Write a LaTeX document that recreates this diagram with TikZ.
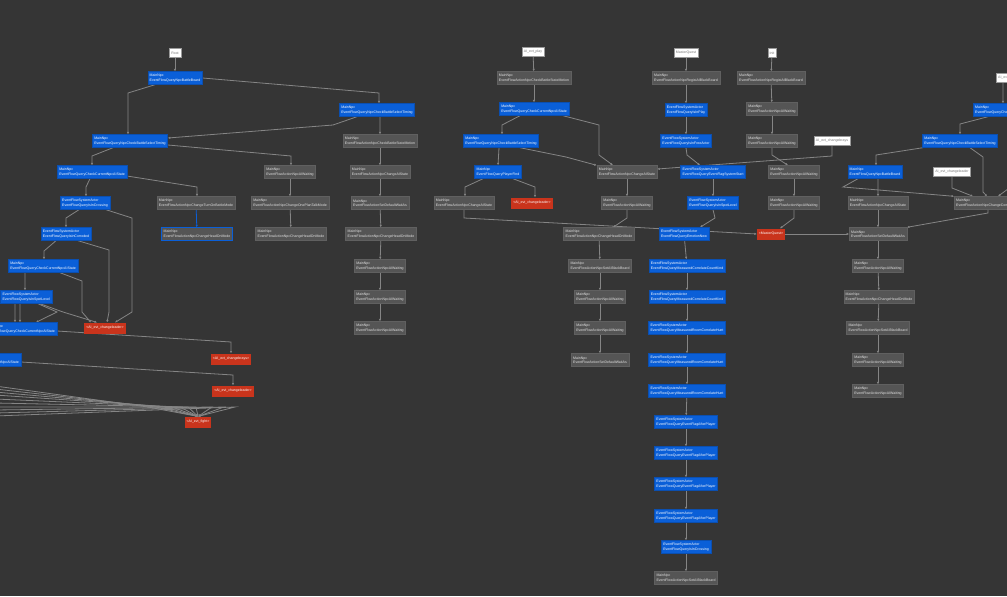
\documentclass[tikz,border=0pt]{standalone}
\usepackage{fontspec}
\setmainfont{Liberation Sans}
\usetikzlibrary{arrows.meta}
\pgfdeclarelayer{links}
\pgfsetlayers{links,main}
\definecolor{canvas}{HTML}{353535}
\definecolor{qryfill}{HTML}{0A5FD8}
\definecolor{qryline}{HTML}{0B4FB0}
\definecolor{actfill}{HTML}{555555}
\definecolor{actline}{HTML}{606060}
\definecolor{acttext}{HTML}{E2E2E2}
\definecolor{evtfill}{HTML}{C9341C}
\definecolor{entline}{HTML}{9A9A9A}
\definecolor{enttext}{HTML}{777777}
\definecolor{linkgray}{HTML}{858585}
\begin{document}
\begin{tikzpicture}[x=1mm, y=-1mm,
  every node/.style={font=\fontsize{10}{12}\selectfont, inner xsep=2mm, inner ysep=1mm},
  querybox/.style={draw=qryline, fill=qryfill, text=white, align=left, minimum height=13mm, line width=0.4mm},
  actionbox/.style={draw=actline, fill=actfill, text=acttext, align=left, minimum height=13mm, line width=0.4mm},
  eventbox/.style={fill=evtfill, text=white, minimum height=11mm},
  entrybox/.style={draw=entline, fill=white, text=enttext, minimum height=9mm, line width=0.3mm},
  link/.style={draw=linkgray, line width=0.8mm, -{Latex[length=2.4mm,width=2.4mm]}}]
  \begin{pgfonlayer}{links}
    \fill[canvas] (0,0) rectangle (1007,596);
  \end{pgfonlayer}
  \useasboundingbox (0,0) rectangle (1007,596);
  \clip (0,0) rectangle (1007,596);

  % left branch
  \node[entrybox] (root) at (175,53) {Root};
  \node[querybox] (b1) at (175,78) {MainNpc\\EventFlowQueryNpcBattleBoard};
  \node[querybox] (b2) at (377,110) {MainNpc\\EventFlowQueryNpcCheckBattleSelectTiming};
  \node[querybox] (b3) at (130,141) {MainNpc\\EventFlowQueryNpcCheckBattleSelectTiming};
  \node[querybox] (b4) at (92,172) {MainNpc\\EventFlowQueryCheckCurrentNpcAIState};
  \node[querybox] (b5) at (85,203) {EventFlowSystemActor\\EventFlowQueryIsInCrossing};
  \node[querybox] (b6) at (66,234) {EventFlowSystemActor\\EventFlowQueryIsInCorroded};
  \node[querybox] (b7) at (43,266) {MainNpc\\EventFlowQueryCheckCurrentNpcAIState};
  \node[querybox, anchor=east] (b8) at (52,297) {EventFlowSystemActor\\EventFlowQueryIsInSpotLevel};
  \node[querybox, anchor=east] (b9) at (57,329) {MainNpc\\EventFlowQueryCheckCurrentNpcAIState};
  \node[querybox, anchor=east] (b10) at (21,360) {MainNpc\\EventFlowQueryCheckCurrentNpcAIState};
  \node[eventbox] (r1) at (105,328) {<AI\_evt\_changeleader>};
  \node[eventbox] (r2) at (231,359) {<AI\_evt\_changebrays>};
  \node[eventbox] (r3) at (233,391) {<AI\_evt\_changeleader>};
  \node[eventbox] (r4) at (198,422) {<AI\_evt\_fight>};
  \node[actionbox] (g1) at (196,203) {MainNpc\\EventFlowActionNpcChangeTurnOnBattleMode};
  \node[actionbox, draw=qryfill] (g2) at (197,234) {MainNpc\\EventFlowActionNpcChangeHeadOnMode};
  \node[actionbox] (g3) at (290,172) {MainNpc\\EventFlowActionNpcAIWaiting};
  \node[actionbox] (g4) at (290,203) {MainNpc\\EventFlowActionNpcChangeOnePlanTalkMode};
  \node[actionbox] (g5) at (291,234) {MainNpc\\EventFlowActionNpcChangeHeadOnMode};
  \node[actionbox] (g6) at (380,141) {MainNpc\\EventFlowActionNpcCheckBattleStateMotion};
  \node[actionbox] (g7) at (380,172) {MainNpc\\EventFlowActionNpcChangeAIState};
  \node[actionbox] (g8) at (380,203) {MainNpc\\EventFlowActionSetDefaultWaitAs};
  \node[actionbox] (g9) at (381,234) {MainNpc\\EventFlowActionNpcChangeHeadOnMode};
  \node[actionbox] (g10) at (380,266) {MainNpc\\EventFlowActionNpcAIWaiting};
  \node[actionbox] (g11) at (380,297) {MainNpc\\EventFlowActionNpcAIWaiting};
  \node[actionbox] (g12) at (380,328) {MainNpc\\EventFlowActionNpcAIWaiting};

  % centre branch
  \node[entrybox] (wplay) at (533,52) {AI\_evt\_play};
  \node[actionbox] (c1) at (534,78) {MainNpc\\EventFlowActionNpcCheckBattleStateMotion};
  \node[querybox] (c2) at (534,109) {MainNpc\\EventFlowQueryCheckCurrentNpcAIState};
  \node[querybox] (c3) at (501,141) {MainNpc\\EventFlowQueryNpcCheckBattleSelectTiming};
  \node[querybox] (c4) at (498,172) {MainNpc\\EventFlowQueryPlayerFind};
  \node[actionbox] (c5) at (464,203) {MainNpc\\EventFlowActionNpcChangeAIState};
  \node[eventbox] (c6) at (532,203) {<AI\_evt\_changeleader>};
  \node[actionbox] (c7) at (627,172) {MainNpc\\EventFlowActionNpcChangeAIState};
  \node[actionbox] (c8) at (627,203) {MainNpc\\EventFlowActionNpcAIWaiting};
  \node[actionbox] (c9) at (599,234) {MainNpc\\EventFlowActionNpcChangeHeadOnMode};
  \node[actionbox] (c10) at (600,266) {MainNpc\\EventFlowActionNpcSetAIBlackBoard};
  \node[actionbox] (c11) at (600,297) {MainNpc\\EventFlowActionNpcAIWaiting};
  \node[actionbox] (c12) at (600,328) {MainNpc\\EventFlowActionNpcAIWaiting};
  \node[actionbox] (c13) at (600,360) {MainNpc\\EventFlowActionSetDefaultWaitAs};

  \node[entrybox] (wmaster) at (686,53) {MasterQuest};
  \node[actionbox] (d1) at (686,78) {MainNpc\\EventFlowActionNpcRegistAIBlackBoard};
  \node[querybox] (d2) at (686,110) {EventFlowSystemActor\\EventFlowQueryIsInPlay};
  \node[querybox] (d3) at (686,141) {EventFlowSystemActor\\EventFlowQueryIsInFreeActor};
  \node[querybox] (d4) at (713,172) {EventFlowSystemActor\\EventFlowQueryEventFlagSystemStart};
  \node[querybox] (d5) at (713,203) {EventFlowSystemActor\\EventFlowQueryIsInSpotLevel};
  \node[querybox] (d6) at (684,234) {EventFlowSystemActor\\EventFlowQueryEmotionNew};
  \node[querybox] (d7) at (687,266) {EventFlowSystemActor\\EventFlowQueryMeasuredCorrelateCountKind};
  \node[querybox] (d8) at (687,297) {EventFlowSystemActor\\EventFlowQueryMeasuredCorrelateCountKind};
  \node[querybox] (d9) at (687,328) {EventFlowSystemActor\\EventFlowQueryMeasuredRoomCorrelateHunt};
  \node[querybox] (d10) at (687,360) {EventFlowSystemActor\\EventFlowQueryMeasuredRoomCorrelateHunt};
  \node[querybox] (d11) at (687,391) {EventFlowSystemActor\\EventFlowQueryMeasuredRoomCorrelateHunt};
  \node[querybox] (d12) at (686,422) {EventFlowSystemActor\\EventFlowQueryEventFlagAfterPlayer};
  \node[querybox] (d13) at (686,453) {EventFlowSystemActor\\EventFlowQueryEventFlagAfterPlayer};
  \node[querybox] (d14) at (686,484) {EventFlowSystemActor\\EventFlowQueryEventFlagAfterPlayer};
  \node[querybox] (d15) at (686,516) {EventFlowSystemActor\\EventFlowQueryEventFlagAfterPlayer};
  \node[querybox] (d16) at (686,547) {EventFlowSystemActor\\EventFlowQueryIsInCrossing};
  \node[actionbox] (d17) at (686,578) {MainNpc\\EventFlowActionNpcSetAIBlackBoard};

  \node[entrybox] (winit) at (772,53) {Init};
  \node[actionbox] (e1) at (771,78) {MainNpc\\EventFlowActionNpcRegistAIBlackBoard};
  \node[actionbox] (e2) at (772,109) {MainNpc\\EventFlowActionNpcAIWaiting};
  \node[actionbox] (e3) at (772,141) {MainNpc\\EventFlowActionNpcAIWaiting};
  \node[entrybox] (wcb) at (832,141) {AI\_evt\_changebrays};
  \node[actionbox] (e4) at (794,172) {MainNpc\\EventFlowActionNpcAIWaiting};
  \node[actionbox] (e5) at (794,203) {MainNpc\\EventFlowActionNpcAIWaiting};
  \node[eventbox] (e6) at (771,234) {<MasterQuest>};

  % right branch
  \node[entrybox, anchor=west] (wr1) at (996,78) {AI\_evt\_changeleader};
  \node[querybox, anchor=west] (f1) at (973,110) {MainNpc\\EventFlowQueryCheckCurrentNpcAIState};
  \node[querybox] (f2) at (960,141) {MainNpc\\EventFlowQueryNpcCheckBattleSelectTiming};
  \node[querybox] (f3) at (875,172) {MainNpc\\EventFlowQueryNpcBattleBoard};
  \node[entrybox] (wcl) at (952,172) {AI\_evt\_changeleader};
  \node[actionbox] (f4) at (878,203) {MainNpc\\EventFlowActionNpcChangeAIState};
  \node[actionbox, anchor=west] (f5) at (954,203) {MainNpc\\EventFlowActionNpcChangeCombatState};
  \node[actionbox] (f6) at (878,234) {MainNpc\\EventFlowActionSetDefaultWaitAs};
  \node[actionbox] (f7) at (878,266) {MainNpc\\EventFlowActionNpcAIWaiting};
  \node[actionbox] (f8) at (879,297) {MainNpc\\EventFlowActionNpcChangeHeadOnMode};
  \node[actionbox] (f9) at (878,328) {MainNpc\\EventFlowActionNpcSetAIBlackBoard};
  \node[actionbox] (f10) at (878,360) {MainNpc\\EventFlowActionNpcAIWaiting};
  \node[actionbox] (f11) at (878,391) {MainNpc\\EventFlowActionNpcAIWaiting};

  \begin{pgfonlayer}{links}
  % links, left
  \draw[link] (root) -- (b1);
  \draw[link] (b1.east) -- (379,93) -- ([xshift=2mm]b2.north);
  \draw[link] ([xshift=-20mm]b1.south) -- (128,93) -- ([xshift=-2mm]b3.north);
  \draw[link] ([xshift=-20mm]b2.south) -- (333,125) -- ([yshift=3mm]b3.east);
  \draw[link] ([xshift=3mm]b2.south) -- (g6.north);
  \draw[link] ([yshift=-4mm]b3.east) -- (291,156) -- ([xshift=1mm]g3.north);
  \draw[link] ([xshift=-17mm]b3.south) -- (92,156) -- (b4.north);
  \draw[link] ([yshift=-4mm]b4.east) -- (197,187) -- ([xshift=1mm]g1.north);
  \draw[link] ([xshift=-2mm]b4.south) -- (86,187) -- ([xshift=1mm]b5.north);
  \draw[link, draw=qryfill] (g1) -- (g2);
  \draw[link] (g3) -- (g4);
  \draw[link] (g4) -- (g5);
  \foreach \a/\b in {g6/g7, g7/g8, g8/g9, g9/g10, g10/g11, g11/g12}
    \draw[link] (\a) -- (\b);
  \draw[link] ([xshift=-6mm]b5.south) -- (66,218) -- (b6.north);
  \draw[link] ([xshift=21mm]b5.south) -- (132,218) -- (132,312) -- ([xshift=10mm]r1.north);
  \draw[link] ([xshift=-10mm]b6.south) -- (44,251) -- ([xshift=1mm]b7.north);
  \draw[link] ([xshift=12mm]b6.south) -- (109,250) -- (109,312) -- ([xshift=2mm]r1.north);
  \draw[link] ([xshift=-18mm]b7.south) -- (25,282) -- ([xshift=-27mm]b8.north east);
  \draw[link] ([xshift=17mm]b7.south) -- (82,281) -- (82,312) -- ([xshift=-14mm]r1.north);
  \draw[link] ([xshift=-37mm]b8.south east) -- ([xshift=-42mm]b9.north east);
  \draw[link] ([xshift=-32mm]b8.south east) -- ([xshift=-37mm]b9.north east);
  \draw[link] ([xshift=-14mm]b8.south east) -- (57,312) -- ([xshift=-21mm]b9.north east);
  \draw[link] ([xshift=-12mm]b8.south east) -- (63,312) -- ([xshift=-8mm]r1.north);
  \draw[link] ([yshift=-2mm]b9.east) -- (231,342) -- (r2.north);
  \draw[link] ([yshift=-2mm]b10.east) -- (233,375) -- (r3.north);
  \foreach \yy/\xx in {386/148, 389/156, 392/164, 395/172, 399/180, 403/188, 407/196, 410/212, 413/224, 416/235}{
    \coordinate (in\xx) at (-5,\yy);
    \draw[link] (in\xx) -- (\xx,407) -- (r4.north);
  }

  % links, centre
  \draw[link] (wplay) -- (c1);
  \draw[link] (c1) -- (c2);
  \draw[link] ([xshift=-14mm]c2.south) -- (502,125) -- ([xshift=1mm]c3.north);
  \draw[link] ([xshift=29mm]c2.south) -- (599,125) -- (599,155) -- ([xshift=-14mm]c7.north);
  \draw[link] ([xshift=19mm]c3.south) -- (566,157) -- (c7.north west);
  \draw[link] ([xshift=-2mm]c3.south) -- (c4.north);
  \draw[link] ([xshift=-15mm]c4.south) -- (465,187) -- ([xshift=1mm]c5.north);
  \draw[link] ([xshift=15mm]c4.south) -- (535,187) -- ([xshift=3mm]c6.north);
  \draw[link] (c5.south) -- (464,218) -- (e6.west);
  \draw[link] (c7) -- (c8);
  \draw[link] (c8.south) -- (627,218) -- ([xshift=14mm]c9.north);
  \foreach \a/\b in {c9/c10, c10/c11, c11/c12, c12/c13}
    \draw[link] (\a) -- (\b);
  \draw[link] (wcb.south) -- (832,156) -- ([yshift=3mm]c7.east);
  \draw[link] (wmaster) -- (d1);
  \draw[link] (d1) -- (d2);
  \draw[link] (d2) -- (d3);
  \draw[link] (d3.south) -- (687,155) -- ([xshift=-13mm]d4.north);
  \draw[link] (d4) -- (d5);
  \draw[link] (d5.south) -- (715,218) -- ([xshift=16mm]d6.north);
  \foreach \a/\b in {d6/d7, d7/d8, d8/d9, d9/d10, d10/d11, d11/d12, d12/d13, d13/d14, d14/d15, d15/d16, d16/d17}
    \draw[link] (\a) -- (\b);
  \draw[link] (winit) -- (e1);
  \draw[link] (e1) -- (e2);
  \draw[link] (e2) -- (e3);
  \draw[link] (e3.south) -- (772,155) -- ([xshift=-6mm]e4.north);
  \draw[link] (e4) -- (e5);
  \draw[link] (e5.south) -- (794,218) -- ([xshift=9mm]e6.north);
  \draw[link] (e6.east) -- (f6.west);

  % links, right
  \coordinate (inr) at (1012,186);
  \draw[link] ([xshift=7mm]wr1.south west) -- ([xshift=30mm]f1.north west);
  \draw[link] ([xshift=15mm]f1.south west) -- (960,124) -- (f2.north);
  \draw[link] (inr) -- ([xshift=44mm]f5.north west);
  \draw[link] ([xshift=10mm]f2.south) -- (983,157) -- (983,192) -- ([xshift=33mm]f5.north west);
  \draw[link] ([xshift=-37mm]f2.south) -- (876,155) -- ([xshift=1mm]f3.north);
  \draw[link] ([xshift=3mm]f3.south) -- (f4.north);
  \draw[link] ([xshift=-17mm]f3.south) -- (843,187) -- (f5.north west);
  \draw[link] (wcl.south) -- (952,188) -- ([xshift=19mm]f5.north west);
  \draw[link] (f4) -- (f6);
  \draw[link] ([xshift=34mm]f5.south west) -- (988,213) -- (f6.north east);
  \foreach \a/\b in {f6/f7, f7/f8, f8/f9, f9/f10, f10/f11}
    \draw[link] (\a) -- (\b);
  \end{pgfonlayer}
\end{tikzpicture}
\end{document}
